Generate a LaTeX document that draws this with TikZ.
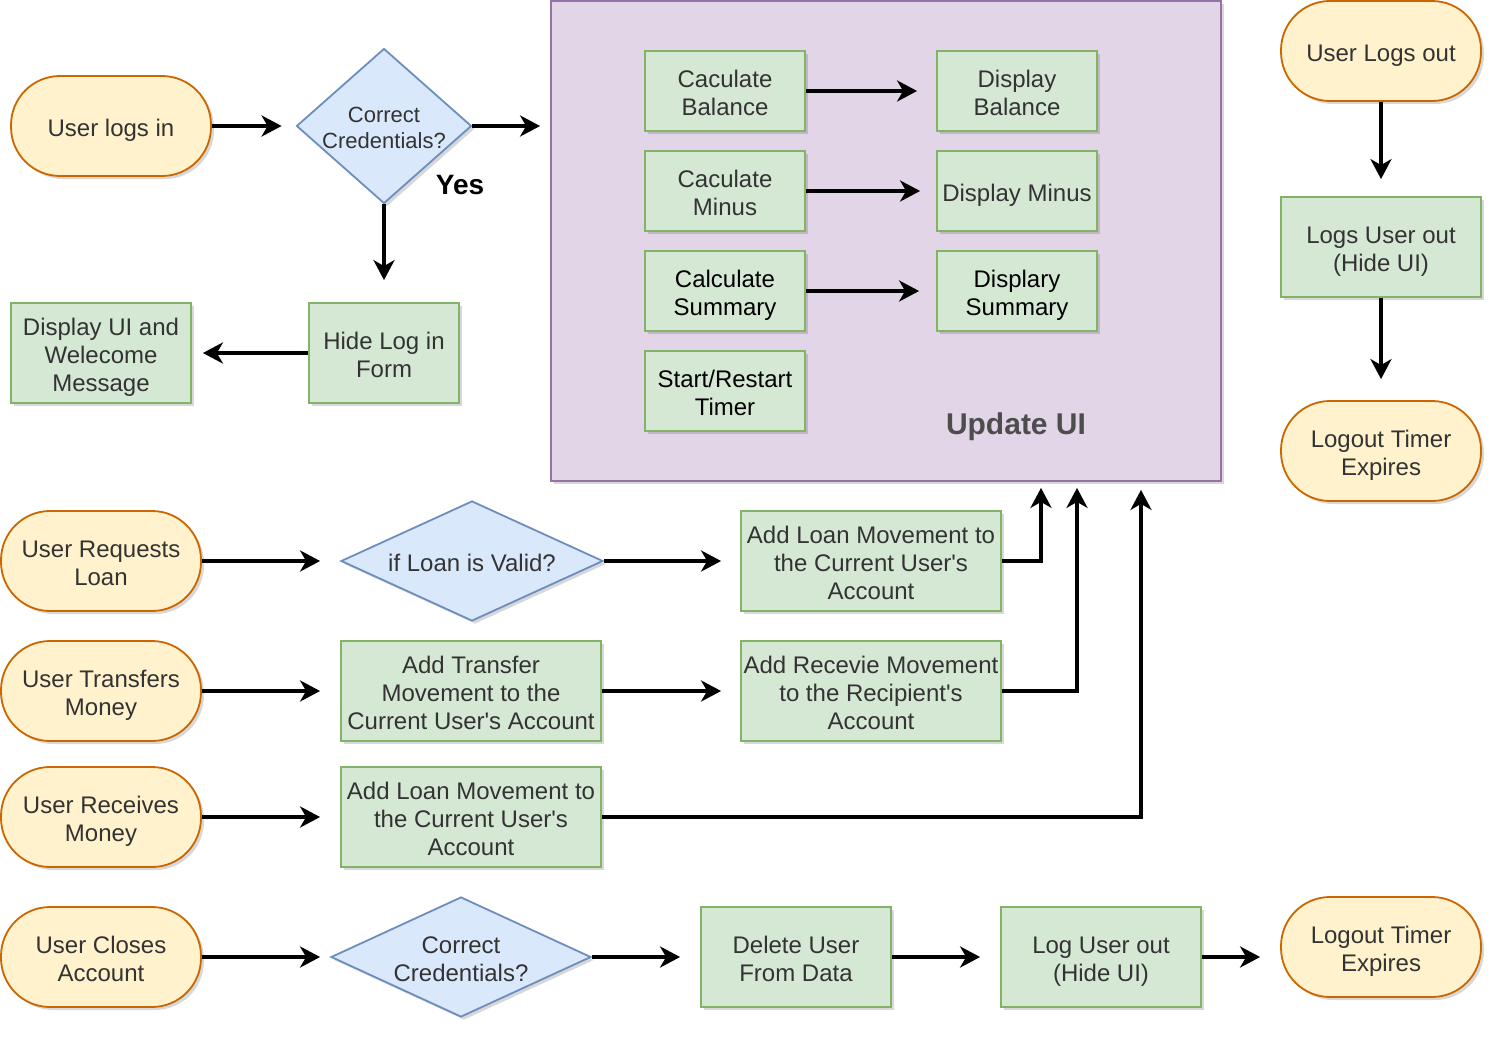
\documentclass[tikz,border=0pt]{standalone}
\usepackage{fontspec}
\setmainfont{Liberation Sans}
\usetikzlibrary{shapes.geometric,arrows.meta,shadows}
\definecolor{txt}{HTML}{333333}
\definecolor{ofill}{HTML}{FFF2CC}
\definecolor{odraw}{HTML}{CC6600}
\definecolor{gfill}{HTML}{D5E8D4}
\definecolor{gdraw}{HTML}{82B366}
\definecolor{bfill}{HTML}{DAE8FC}
\definecolor{bdraw}{HTML}{6C8EBF}
\definecolor{pfill}{HTML}{E1D5E7}
\definecolor{pdraw}{HTML}{9673A6}
\definecolor{ulbl}{HTML}{4D4D4D}
\newcommand{\q}{\textquotesingle}
\def\tsh{54.5pt}
\def\bsh{5.5pt}
\begin{document}
\begin{tikzpicture}[x=1pt,y=-1pt,
  txtfmt/.style={font=\fontsize{24}{28}\selectfont, text=txt, align=center,
    execute at begin node={\rule{0pt}{\tsh}}, execute at end node={\rule[-\bsh]{0pt}{\bsh}}},
  sl/.style={/utils/exec={\def\tsh{26.5pt}}},
  tl/.style={/utils/exec={\def\tsh{82.5pt}}},
  base/.style={txtfmt, line width=1.8pt, inner sep=1pt,
    drop shadow={shadow xshift=3pt, shadow yshift=-3pt, opacity=0.22, fill=black!70}},
  term/.style={base, rectangle, rounded corners=49pt, minimum width=200pt, minimum height=100pt, fill=ofill, draw=odraw},
  proc/.style={base, rectangle, fill=gfill, draw=gdraw},
  dec/.style={line width=1.8pt, diamond, inner sep=0pt, fill=bfill, draw=bdraw,
    drop shadow={shadow xshift=3pt, shadow yshift=-3pt, opacity=0.22, fill=black!70}},
  lbl/.style={txtfmt, inner sep=0pt},
  arr/.style={line width=3.5pt, draw=black, -{Stealth[length=20pt,width=21pt,inset=6pt]}}
]
\useasboundingbox (0,0) rectangle (1504,1046);

% Update UI container
\node[line width=1.8pt, rectangle, fill=pfill, draw=pdraw, minimum width=670pt, minimum height=480pt,
  drop shadow={shadow xshift=3pt, shadow yshift=-3pt, opacity=0.22, fill=black!70}] (upd) at (886,241) {};
\node[font=\bfseries\fontsize{30}{34}\selectfont, text=ulbl] (updlbl) at (1016,427) {Update UI};

% top left
\node[term, sl] (login) at (111,126) {User logs in};
\node[dec, minimum width=175pt, minimum height=155pt] (d1) at (384,126) {};
\node[lbl, font=\fontsize{22}{25.5}\selectfont, /utils/exec={\def\tsh{49.8pt}\def\bsh{5pt}}] (d1t) at (384,126) {Correct\\Credentials?};
\node[font=\bfseries\fontsize{28}{32}\selectfont, text=black] (yes) at (460,185) {Yes};
\node[proc, minimum width=150pt, minimum height=100pt] (hide) at (384,353) {Hide Log in\\Form};
\node[proc, tl, minimum width=180pt, minimum height=100pt] (disp) at (101,353) {Display UI and\\Welecome\\Message};

\draw[arr, shorten >=14pt] (login.east) -- (d1.west);
\draw[arr, shorten >=10pt] (d1.east) -- (d1.east -| upd.west);
\draw[arr, shorten >=22pt] (d1.south) -- (hide.north);
\draw[arr, shorten >=11pt] (hide.west) -- (disp.east);

% inner boxes
\node[proc, minimum width=160pt, minimum height=80pt] (cb) at (725,91) {Caculate\\Balance};
\node[proc, minimum width=160pt, minimum height=80pt] (cm) at (725,191) {Caculate\\Minus};
\node[proc, minimum width=160pt, minimum height=80pt, text=black] (cs) at (725,291) {Calculate\\Summary};
\node[proc, minimum width=160pt, minimum height=80pt, text=black] (tm) at (725,391) {Start/Restart\\Timer};
\node[proc, minimum width=160pt, minimum height=80pt] (db) at (1017,91) {Display\\Balance};
\node[proc, sl, minimum width=160pt, minimum height=80pt] (dm) at (1017,191) {Display Minus};
\node[proc, minimum width=160pt, minimum height=80pt, text=black] (ds) at (1017,291) {Displary\\Summary};
\draw[arr, shorten >=19pt] (cb.east) -- (db.west);
\draw[arr, shorten >=16pt] (cm.east) -- (dm.west);
\draw[arr, shorten >=17pt] (cs.east) -- (ds.west);

% right column
\node[term, sl] (logout) at (1381,51) {User Logs out};
\node[proc, minimum width=200pt, minimum height=100pt] (lou) at (1381,247) {Logs User out\\(Hide UI)};
\node[term] (tmr1) at (1381,451) {Logout Timer\\Expires};
\draw[arr, shorten >=17pt] (logout.south) -- (lou.north);
\draw[arr, shorten >=21pt] (lou.south) -- (tmr1.north);

% loan row
\node[term] (req) at (101,561) {User Requests\\Loan};
\node[dec, minimum width=262pt, minimum height=120pt] (d2) at (472,561) {};
\node[lbl, sl] (d2t) at (472,561) {if Loan is Valid?};
\node[proc, tl, minimum width=260pt, minimum height=100pt] (al1) at (871,561) {Add Loan Movement to\\the Current User\q s\\Account};
\draw[arr, shorten >=20pt] (req.east) -- (d2.west);
\draw[arr, shorten >=19pt] (d2.east) -- (al1.west);
\draw[arr, shorten >=6pt] (al1.east) -| ([xshift=155pt]upd.south);

% transfer row
\node[term] (trf) at (101,691) {User Transfers\\Money};
\node[proc, tl, minimum width=260pt, minimum height=100pt] (atm) at (471,691) {Add Transfer\\Movement to the\\Current User\q s Account};
\node[proc, tl, minimum width=260pt, minimum height=100pt] (rv) at (871,691) {Add Recevie Movement\\to the Recipient\q s\\Account};
\draw[arr, shorten >=20pt] (trf.east) -- (atm.west);
\draw[arr, shorten >=19pt] (atm.east) -- (rv.west);
\draw[arr, shorten >=6pt] (rv.east) -| ([xshift=191pt]upd.south);

% receive row
\node[term] (rcv) at (101,817) {User Receives\\Money};
\node[proc, tl, minimum width=260pt, minimum height=100pt] (al2) at (471,817) {Add Loan Movement to\\the Current User\q s\\Account};
\draw[arr, shorten >=20pt] (rcv.east) -- (al2.west);
\draw[arr, shorten >=8pt] (al2.east) -| ([xshift=255pt]upd.south);

% close row
\node[term] (cls) at (101,957) {User Closes\\Account};
\node[dec, minimum width=260pt, minimum height=120pt] (d3) at (461,957) {};
\node[lbl] (d3t) at (461,957) {Correct\\Credentials?};
\node[proc, minimum width=190pt, minimum height=100pt] (del) at (796,957) {Delete User\\From Data};
\node[proc, minimum width=200pt, minimum height=100pt] (lo2) at (1101,957) {Log User out\\(Hide UI)};
\node[term] (tmr2) at (1381,947) {Logout Timer\\Expires};
\draw[arr, shorten >=10pt] (cls.east) -- (d3.west);
\draw[arr, shorten >=20pt] (d3.east) -- (del.west);
\draw[arr, shorten >=20pt] (del.east) -- (lo2.west);
\draw[arr, shorten >=20pt] (lo2.east) -- (lo2.east -| tmr2.west);
\end{tikzpicture}
\end{document}
